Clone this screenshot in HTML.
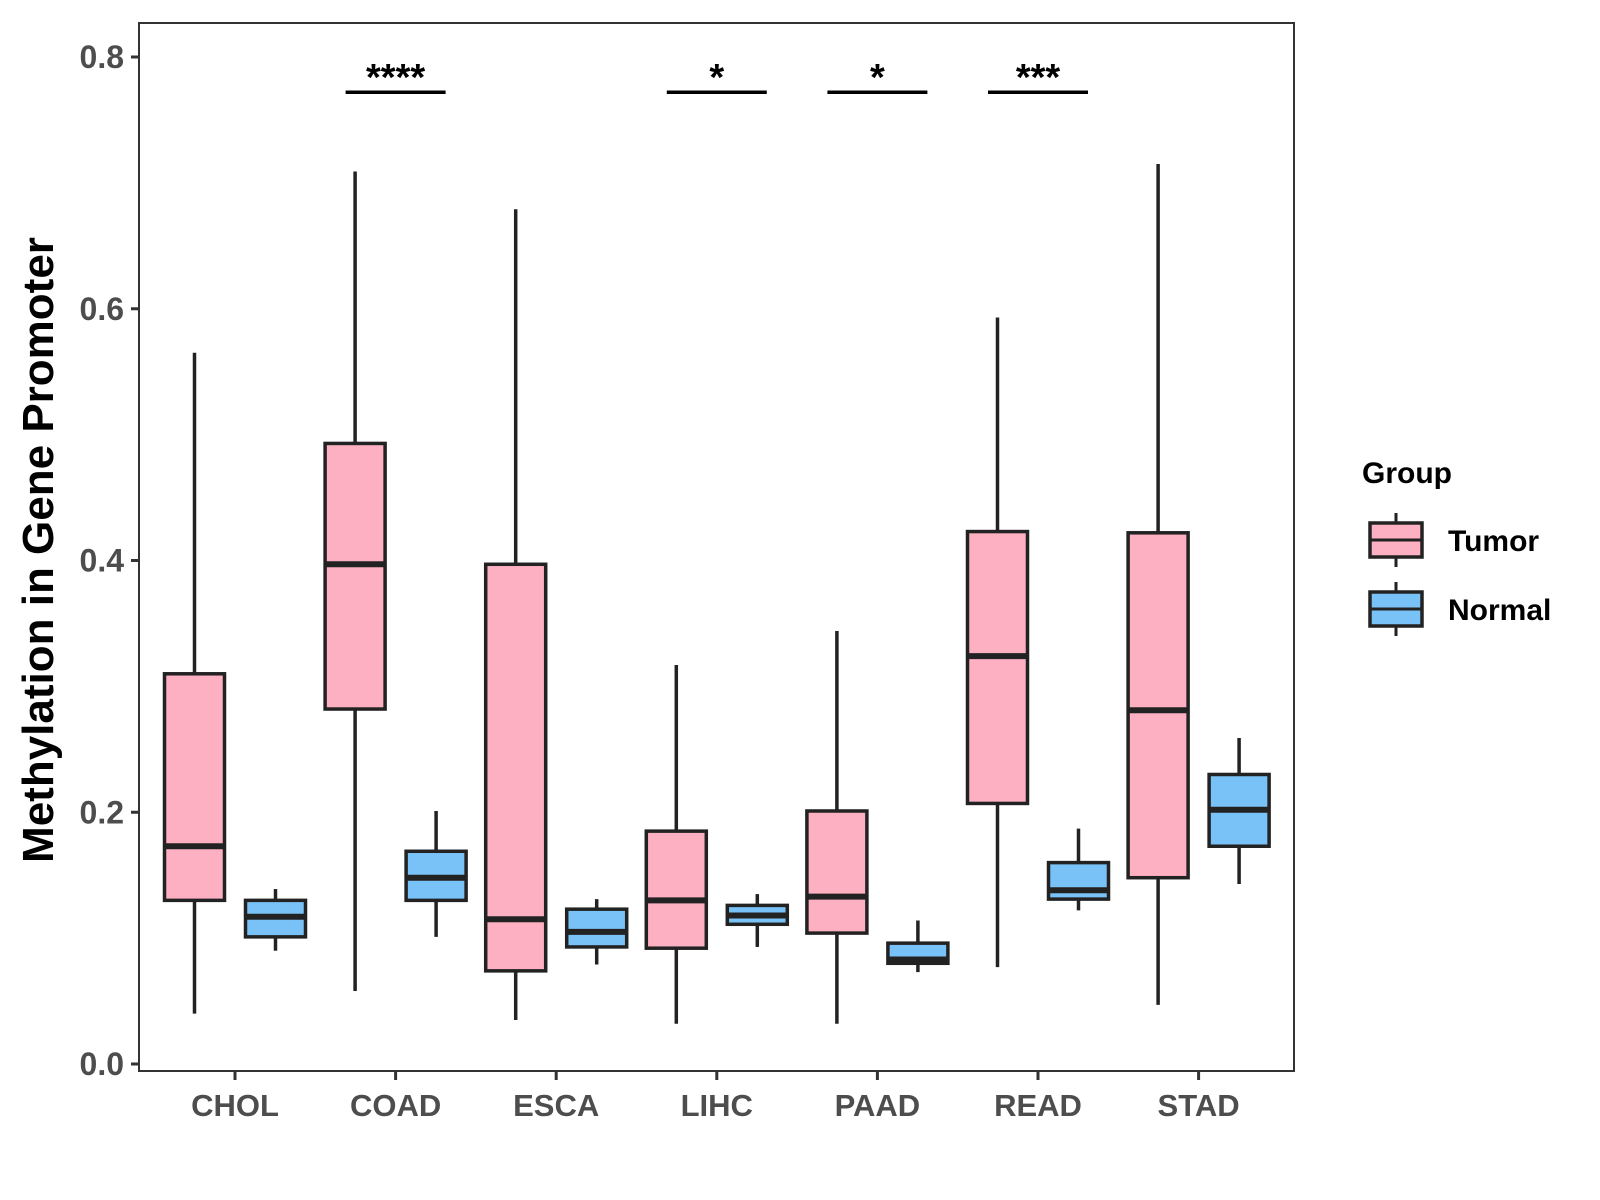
<!DOCTYPE html>
<html><head><meta charset="utf-8"><style>body{margin:0;background:#fff}svg{display:block}text{font-family:"Liberation Sans",sans-serif;font-weight:bold}</style></head>
<body>
<svg id="chart" width="1600" height="1200" xmlns="http://www.w3.org/2000/svg"></svg>
<script>
const categories=["CHOL","COAD","ESCA","LIHC","PAAD","READ","STAD"];
const tumorStats=[[0.040,0.130,0.173,0.310,0.565],[0.058,0.282,0.397,0.493,0.709],[0.035,0.074,0.115,0.397,0.679],[0.032,0.092,0.130,0.185,0.317],[0.032,0.104,0.133,0.201,0.344],[0.077,0.207,0.324,0.423,0.593],[0.047,0.148,0.281,0.422,0.715]];
const normalStats=[[0.090,0.101,0.117,0.130,0.139],[0.101,0.130,0.148,0.169,0.201],[0.079,0.093,0.105,0.123,0.131],[0.093,0.111,0.118,0.126,0.135],[0.073,0.080,0.083,0.096,0.114],[0.122,0.131,0.138,0.160,0.187],[0.143,0.173,0.202,0.230,0.259]];
const yTicks=[0,0.2,0.4,0.6,0.8];
const yTickLabels=["0.0","0.2","0.4","0.6","0.8"];
const sigCats=["COAD","LIHC","PAAD","READ"];
const sigLabels=["****","*","*","***"];
const sigLevel=0.772;

const NS="http://www.w3.org/2000/svg";
const svg=document.getElementById("chart");
const L=139,R=1294,T=23,B=1071;
const y=v=>1064-v*1258.75;
const x=i=>235+i*160.6;
function mk(tag,attrs,parent){const e=document.createElementNS(NS,tag);for(const k in attrs)e.setAttribute(k,attrs[k]);(parent||svg).appendChild(e);return e;}

const panel=mk("rect",{x:L,y:T,width:R-L,height:B-T,fill:"#fff",stroke:"#333",'stroke-width':2});



yTicks.forEach((t,i)=>{
  const g=mk("g",{});
  
  
  mk("line",{x1:L-8,x2:L,y1:y(t),y2:y(t),stroke:"#333",'stroke-width':3},g);
  const tx=mk("text",{x:L-15,y:y(t)+11,'text-anchor':'end','font-size':32,fill:'#4d4d4d'},g);tx.textContent=yTickLabels[i];
});
categories.forEach((c,i)=>{
  const g=mk("g",{});
  
  
  mk("line",{x1:x(i),x2:x(i),y1:B,y2:B+9,stroke:"#333",'stroke-width':3},g);
  const tx=mk("text",{x:x(i),y:B+45,'text-anchor':'middle','font-size':31,fill:'#4d4d4d'},g);tx.textContent=c;
});
const yt=mk("text",{x:53,y:550,'text-anchor':'middle','font-size':44,fill:'#000',transform:'rotate(-90 53 550)'});
yt.textContent="Methylation in Gene Promoter";



function box(cx,s,fill,name){
  const g=mk("g",{});
  
  
  const w=60;
  mk("line",{x1:cx,x2:cx,y1:y(s[0]),y2:y(s[4]),stroke:"#222",'stroke-width':3.5},g);
  mk("rect",{x:cx-w/2,y:y(s[3]),width:w,height:y(s[1])-y(s[3]),fill:fill,stroke:"#222",'stroke-width':3.5},g);
  mk("line",{x1:cx-w/2,x2:cx+w/2,y1:y(s[2]),y2:y(s[2]),stroke:"#222",'stroke-width':6},g);
}
categories.forEach((c,i)=>{
  box(x(i)-40.5,tumorStats[i],"#fcb0c2","box-tumor-"+c.toLowerCase());
  box(x(i)+40.5,normalStats[i],"#79c2f7","box-normal-"+c.toLowerCase());
});
sigCats.forEach((c,k)=>{
  const i=categories.indexOf(c);
  const g=mk("g",{});
  
  
  mk("line",{x1:x(i)-50,x2:x(i)+50,y1:y(sigLevel),y2:y(sigLevel),stroke:"#000",'stroke-width':3.5},g);
  const tx=mk("text",{x:x(i),y:y(sigLevel)-2,'text-anchor':'middle','font-size':38,fill:'#000'},g);tx.textContent=sigLabels[k];
});
// legend
const lg=mk("g",{});


const lt=mk("text",{x:1362,y:483,'font-size':30,fill:'#000'},lg);lt.textContent="Group";
[["Tumor","#fcb0c2",540],["Normal","#79c2f7",609]].forEach(([n,f,cy])=>{
  const e=mk("g",{},lg);
  
  
  mk("line",{x1:1396,x2:1396,y1:cy-27,y2:cy+27,stroke:"#222",'stroke-width':3},e);
  mk("rect",{x:1370,y:cy-17,width:52,height:34,fill:f,stroke:"#222",'stroke-width':3.5},e);
  mk("line",{x1:1370,x2:1422,y1:cy,y2:cy,stroke:"#222",'stroke-width':3},e);
  const t=mk("text",{x:1448,y:cy+11,'font-size':30,fill:'#000'},e);t.textContent=n;
});
</script>
</body></html>
